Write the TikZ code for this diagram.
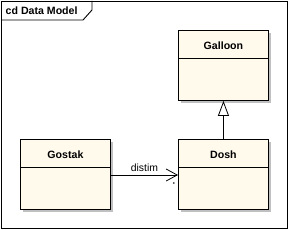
\documentclass[tikz,border=0pt]{standalone}
\usepackage{fontspec}
\setmainfont{Liberation Sans}
\usepackage{tikz}
\usetikzlibrary{positioning,arrows.meta,calc,shadows}
\definecolor{classfill}{RGB}{255,250,236}
\definecolor{shadowgray}{RGB}{192,192,192}

\begin{document}
\begin{tikzpicture}[x=1pt, y=-1pt,
  cls/.style={draw, rectangle, fill=classfill, line width=0.9pt, minimum width=90pt, minimum height=70pt, inner sep=0pt, anchor=north west,
    general shadow={fill=shadowgray, shadow xshift=3pt, shadow yshift=-3pt}},
  clsname/.style={font=\fontsize{10.6}{12}\selectfont\bfseries, inner sep=0pt},
  lbl/.style={font=\fontsize{10.4}{12}\selectfont, inner sep=0pt},
  assoc/.style={-{Straight Barb[length=11pt, width=12pt, line width=0.8pt]}, line width=0.9pt},
  gen/.style={-{Triangle[open, fill=white, length=15pt, width=11pt, line width=0.8pt]}, line width=0.9pt},
]
  \useasboundingbox (0,0) rectangle (289,230);
  % frame
  \draw[line width=0.9pt] (1,1) rectangle (287,228);
  \draw[line width=0.9pt] (1,20) -- (83,20) -- (92,10) -- (92,1);
  \node[clsname, anchor=west] (title) at (5.5,11) {cd Data Model};

  \node[cls] (galloon) at (178,30) {};
  \node[cls] (gostak) at (20,139) {};
  \node[cls] (dosh) at (178,139) {};

  \node[clsname] (galloonname) at ($(galloon.north)+(0,16)$) {Galloon};
  \node[clsname] (gostakname) at ($(gostak.north)+(0,16)$) {Gostak};
  \node[clsname] (doshname) at ($(dosh.north)+(0,16)$) {Dosh};

  \foreach \c in {galloon,gostak,dosh}
    \draw[line width=0.9pt] ($(\c.north west)+(0,28)$) -- ($(\c.north east)+(0,28)$);

  \coordinate (gostakout) at ($(gostak.north east)+(0,36)$);
  \coordinate (doshin) at ($(dosh.north west)+(0,36)$);
  \draw[assoc] (gostakout) -- node[lbl, above=3pt] (assoclbl) {distim} (doshin);
  \node[lbl, font=\fontsize{6}{6}\selectfont] (mult) at (174,184) {\textbullet};

  \draw[gen] (dosh.north) -- (galloon.south);
\end{tikzpicture}
\end{document}
